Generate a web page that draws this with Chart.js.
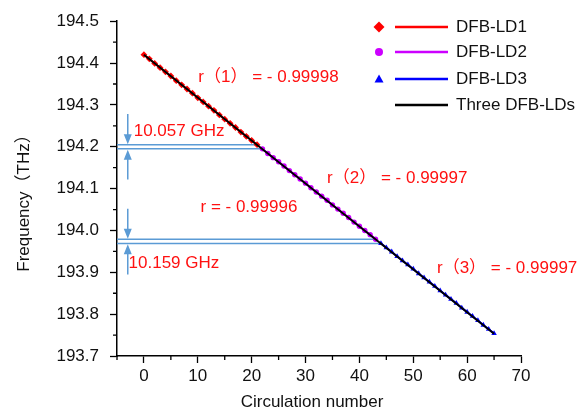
<!DOCTYPE html>
<html>
<head>
<meta charset="utf-8">
<script src="https://cdn.jsdelivr.net/npm/chart.js@4"></script>
<style>
  html, body { margin: 0; padding: 0; background: #fff; }
</style>
</head>
<body>
<canvas id="freq_chart" width="583" height="412"></canvas>
<script>
// circulation numbers and frequencies (THz) for each laser
const xLD1 = [0, 1, 2, 3, 4, 5, 6, 7, 8, 9, 10, 11, 12, 13, 14, 15, 16, 17, 18, 19, 20, 21];
const yLD1 = [194.420, 194.410, 194.399, 194.389, 194.379, 194.369, 194.358, 194.348, 194.338, 194.328, 194.317,
              194.307, 194.297, 194.287, 194.276, 194.266, 194.256, 194.246, 194.235, 194.225, 194.215, 194.205];
const xLD2 = [22, 23, 24, 25, 26, 27, 28, 29, 30, 31, 32, 33, 34, 35, 36, 37, 38, 39, 40, 41, 42, 43];
const yLD2 = [194.195, 194.184, 194.174, 194.164, 194.154, 194.143, 194.133, 194.123, 194.113, 194.102, 194.092,
              194.082, 194.072, 194.061, 194.051, 194.041, 194.031, 194.020, 194.010, 194.000, 193.990, 193.979];
const xLD3 = [44, 45, 46, 47, 48, 49, 50, 51, 52, 53, 54, 55, 56, 57, 58, 59, 60, 61, 62, 63, 64, 65];
const yLD3 = [193.969, 193.959, 193.949, 193.938, 193.928, 193.918, 193.908, 193.897, 193.887, 193.877, 193.867,
              193.856, 193.846, 193.836, 193.826, 193.815, 193.805, 193.795, 193.785, 193.774, 193.764, 193.754];
// fitted line over the three lasers
const xFit = [0, 65];
const yFit = [194.420, 193.753];

const seriesNames = ['DFB-LD1', 'DFB-LD2', 'DFB-LD3', 'Three DFB-LDs'];

// tick labels
const xTicks = [0, 10, 20, 30, 40, 50, 60, 70];
const xMinor = [-5, 5, 15, 25, 35, 45, 55, 65];
const yTicks = [193.7, 193.8, 193.9, 194.0, 194.1, 194.2, 194.3, 194.4, 194.5];
const yMinor = [193.75, 193.85, 193.95, 194.05, 194.15, 194.25, 194.35, 194.45];

// gaps between lasers: horizontal guide lines and arrows
const gapLineEnds = [21, 22, 43, 44];
const gapLineY = [194.205, 194.195, 193.979, 193.969];
const arrowX = -3;
const arrowFrom = [194.278, 194.122, 194.052, 193.895];
const arrowTo = [194.206, 194.193, 193.980, 193.967];

// text notes
const noteText = ['r（1） = - 0.99998', 'r（2） = - 0.99997', 'r（3） = - 0.99997', 'r = - 0.99996', '10.057 GHz', '10.159 GHz'];
const noteX = [10.1, 34.0, 54.4, 10.5, -1.9, -2.85];
const noteY = [194.366, 194.124, 193.910, 194.056, 194.238, 193.922];

const FONT = '"Liberation Sans", Arial, "Noto Sans CJK SC", sans-serif';
const gapColor = 'rgb(91,155,213)';
const noteColor = '#ff1111';

function pts(xs, ys) {
	return xs.map((x, i) => ({ x: x, y: ys[i] }));
}

const gapSets = [];
for (let i = 0; i < gapLineY.length; i++) {
	gapSets.push({
		data: pts([-5, gapLineEnds[i]], [gapLineY[i], gapLineY[i]]),
		showLine: true,
		borderColor: gapColor,
		borderWidth: 1.5,
		pointRadius: 0,
		order: 5
	});
}

const extras = {
	id: 'extras',
	afterDatasetsDraw(chart) {
		const ctx = chart.ctx, xs = chart.scales.x, ys = chart.scales.y;
		ctx.save();
		// arrows
		ctx.strokeStyle = gapColor;
		ctx.fillStyle = gapColor;
		ctx.lineWidth = 1.5;
		const px = xs.getPixelForValue(arrowX);
		for (let i = 0; i < arrowFrom.length; i++) {
			const p0 = ys.getPixelForValue(arrowFrom[i]);
			const p1 = ys.getPixelForValue(arrowTo[i]);
			const dir = p1 > p0 ? 1 : -1;
			ctx.beginPath();
			ctx.moveTo(px, p0);
			ctx.lineTo(px, p1 - dir * 6);
			ctx.stroke();
			ctx.beginPath();
			ctx.moveTo(px, p1);
			ctx.lineTo(px - 4, p1 - dir * 10);
			ctx.lineTo(px + 4, p1 - dir * 10);
			ctx.closePath();
			ctx.fill();
		}
		// notes
		ctx.fillStyle = noteColor;
		ctx.font = '17px ' + FONT;
		ctx.textAlign = 'left';
		ctx.textBaseline = 'middle';
		for (let i = 0; i < noteText.length; i++) {
			ctx.fillText(noteText[i], xs.getPixelForValue(noteX[i]), ys.getPixelForValue(noteY[i]));
		}
		ctx.restore();
	},
	afterDraw(chart) {
		const ctx = chart.ctx, xs = chart.scales.x, ys = chart.scales.y;
		const area = chart.chartArea;
		ctx.save();
		// minor ticks
		ctx.strokeStyle = '#000';
		ctx.lineWidth = 1.3;
		ctx.beginPath();
		xMinor.forEach(v => {
			const p = xs.getPixelForValue(v);
			ctx.moveTo(p, area.bottom);
			ctx.lineTo(p, area.bottom + 4);
		});
		yMinor.forEach(v => {
			const p = ys.getPixelForValue(v);
			ctx.moveTo(area.left, p);
			ctx.lineTo(area.left - 4, p);
		});
		ctx.stroke();

		// axis titles
		ctx.fillStyle = '#111';
		ctx.font = '17px ' + FONT;
		ctx.textAlign = 'center';
		ctx.textBaseline = 'middle';
		ctx.fillText('Circulation number', 312, 402);
		ctx.save();
		ctx.translate(24, 199);
		ctx.rotate(-Math.PI / 2);
		ctx.fillText('Frequency（THz）', 0, 0);
		ctx.restore();

		// legend: marker, line, label
		const rows = [27, 52, 79, 105];
		chart.data.datasets.slice(0, 4).forEach((ds, i) => {
			const y = rows[i];
			if (ds.pointRadius > 0) {
				ctx.fillStyle = ds.backgroundColor;
				ctx.beginPath();
				if (ds.pointStyle === 'rectRot') {
					ctx.moveTo(379, y - 5.5); ctx.lineTo(384.5, y); ctx.lineTo(379, y + 5.5); ctx.lineTo(373.5, y);
				} else if (ds.pointStyle === 'circle') {
					ctx.arc(379, y, 4, 0, Math.PI * 2);
				} else {
					ctx.moveTo(379, y - 4.5); ctx.lineTo(383.5, y + 3.5); ctx.lineTo(374.5, y + 3.5);
				}
				ctx.closePath();
				ctx.fill();
			}
			ctx.strokeStyle = ds.borderColor;
			ctx.lineWidth = 2.5;
			ctx.beginPath();
			ctx.moveTo(395, y);
			ctx.lineTo(448, y);
			ctx.stroke();
			ctx.fillStyle = '#111';
			ctx.textAlign = 'left';
			ctx.fillText(ds.label, 456, y);
		});
		ctx.restore();
	}
};

const context = document.getElementById('freq_chart').getContext('2d');
const freq_chart = new Chart(context, {
	type: 'scatter',
	data: {
		datasets: [
			{ label: seriesNames[0], data: pts(xLD1, yLD1), showLine: true, borderColor: '#ff0000', backgroundColor: '#ff0000',
				borderWidth: 2, pointStyle: 'rectRot', pointRadius: 3.4, pointBorderWidth: 0, order: 2 },
			{ label: seriesNames[1], data: pts(xLD2, yLD2), showLine: true, borderColor: '#cc00ff', backgroundColor: '#cc00ff',
				borderWidth: 2, pointStyle: 'circle', pointRadius: 2.7, pointBorderWidth: 0, order: 2 },
			{ label: seriesNames[2], data: pts(xLD3, yLD3), showLine: true, borderColor: '#0000ff', backgroundColor: '#0000ff',
				borderWidth: 2, pointStyle: 'triangle', pointRadius: 3.2, pointBorderWidth: 0, order: 2 },
			{ label: seriesNames[3], data: pts(xFit, yFit), showLine: true, borderColor: '#000', backgroundColor: '#000',
				borderWidth: 2, pointRadius: 0, order: 1 },
			...gapSets
		]
	},
	options: {
		responsive: false,
		animation: false,
		devicePixelRatio: 1,
		layout: { padding: { left: 0, top: 17, right: 62, bottom: 0 } },
		plugins: {
			legend: { display: false },
			tooltip: { enabled: false }
		},
		scales: {
			x: {
				type: 'linear',
				min: -5,
				max: 70,
				afterBuildTicks: s => { s.ticks = xTicks.map(v => ({ value: v })); },
				afterFit: s => { s.height = 56; },
				ticks: { color: '#111', font: { family: FONT, size: 17 }, padding: 3, maxRotation: 0 },
				grid: { drawOnChartArea: false, drawTicks: true, tickLength: 7, color: '#000', tickWidth: 1.3 },
				border: { display: true, color: '#000', width: 1.5 }
			},
			y: {
				type: 'linear',
				min: 193.7,
				max: 194.5,
				afterBuildTicks: s => { s.ticks = yTicks.map(v => ({ value: v })); },
				afterFit: s => { s.width = 117; },
				ticks: { color: '#111', font: { family: FONT, size: 17 }, padding: 11, callback: v => v.toFixed(1) },
				grid: { drawOnChartArea: false, drawTicks: true, tickLength: 7, color: '#000', tickWidth: 1.3 },
				border: { display: true, color: '#000', width: 1.5 }
			}
		}
	},
	plugins: [extras]
});
</script>
</body>
</html>
